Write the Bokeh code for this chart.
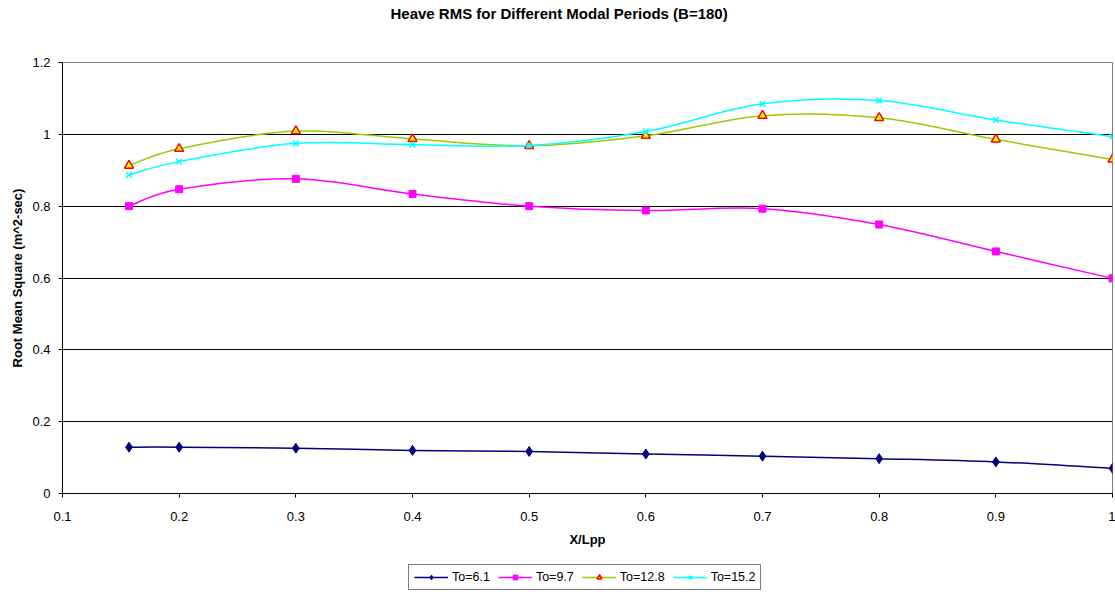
import numpy as np
from bokeh.plotting import figure
from bokeh.layouts import column
from bokeh.models import Range1d, FixedTicker, Legend, LegendItem, Title, ColumnDataSource
from bokeh.embed import file_html
from bokeh.resources import INLINE

# ---- data ----
x_lpp = [0.157, 0.2, 0.3, 0.4, 0.5, 0.6, 0.7, 0.8, 0.9, 1.0]
to_6_1 = [0.129, 0.129, 0.126, 0.120, 0.117, 0.110, 0.104, 0.097, 0.088, 0.070]
to_9_7 = [0.800, 0.847, 0.876, 0.834, 0.800, 0.788, 0.793, 0.749, 0.674, 0.599]
to_12_8 = [0.913, 0.960, 1.009, 0.987, 0.968, 0.996, 1.052, 1.046, 0.986, 0.930]
to_15_2 = [0.887, 0.924, 0.975, 0.971, 0.969, 1.008, 1.085, 1.094, 1.040, 0.994]
series_names = ["To=6.1", "To=9.7", "To=12.8", "To=15.2"]
x_ticks = [0.1, 0.2, 0.3, 0.4, 0.5, 0.6, 0.7, 0.8, 0.9, 1.0]
x_tick_labels = ["0.1", "0.2", "0.3", "0.4", "0.5", "0.6", "0.7", "0.8", "0.9", "1"]
y_ticks = [0, 0.2, 0.4, 0.6, 0.8, 1.0, 1.2]
y_tick_labels = ["0", "0.2", "0.4", "0.6", "0.8", "1", "1.2"]

FONT = "Liberation Sans"

p = figure(width=1115, height=555, output_backend="svg", toolbar_location=None, title=None,
           x_range=Range1d(0.1, 1.0), y_range=Range1d(0, 1.2),
           min_border_left=62, min_border_right=3, min_border_top=62, min_border_bottom=62)
# spacer between the title and the plot area, then the title itself
p.add_layout(Title(text=" ", text_font_size="1px", standoff=38), "above")
p.add_layout(Title(text="Heave RMS for Different Modal Periods (B=180)", align="left",
                   offset=328, text_font=FONT, text_font_size="15px", text_font_style="bold",
                   text_color="black", standoff=0), "above")

p.background_fill_color = "white"
p.border_fill_color = "white"
p.outline_line_color = "#808080"
p.outline_line_width = 1

p.xgrid.visible = False
p.ygrid.grid_line_color = "black"
p.ygrid.grid_line_width = 1
p.ygrid.ticker = FixedTicker(ticks=y_ticks)

p.xaxis.ticker = FixedTicker(ticks=x_ticks)
p.yaxis.ticker = FixedTicker(ticks=y_ticks)
p.xaxis.major_label_overrides = dict(zip(x_ticks, x_tick_labels))
p.yaxis.major_label_overrides = dict(zip(y_ticks, y_tick_labels))
for ax in (p.xaxis, p.yaxis):
    ax.axis_line_color = "black"
    ax.major_tick_line_color = "black"
    ax.major_tick_out = 4
    ax.major_tick_in = 0
    ax.minor_tick_line_color = None
    ax.major_label_text_font = FONT
    ax.major_label_text_font_size = "13px"
    ax.major_label_text_color = "black"
    ax.axis_label_text_font = FONT
    ax.axis_label_text_font_size = "13px"
    ax.axis_label_text_font_style = "bold"
    ax.axis_label_text_color = "black"
p.xaxis.axis_label = "X/Lpp"
p.yaxis.axis_label = "Root Mean Square (m^2-sec)"
p.xaxis.major_label_standoff = 14
p.yaxis.major_label_standoff = 8
p.xaxis.axis_label_standoff = 8
p.yaxis.axis_label_standoff = 4


def bezier_source(xs, ys):
    x = np.asarray(xs, dtype=float)
    y = np.asarray(ys, dtype=float)
    xp = np.concatenate([[x[0]], x, [x[-1]]])
    yp = np.concatenate([[y[0]], y, [y[-1]]])
    n = len(x)
    cx0 = xp[1:n] + (xp[2:n + 1] - xp[0:n - 1]) / 6.0
    cy0 = yp[1:n] + (yp[2:n + 1] - yp[0:n - 1]) / 6.0
    cx1 = xp[2:n + 1] - (xp[3:n + 2] - xp[1:n]) / 6.0
    cy1 = yp[2:n + 1] - (yp[3:n + 2] - yp[1:n]) / 6.0
    return ColumnDataSource(dict(x0=x[:-1], y0=y[:-1], x1=x[1:], y1=y[1:],
                                 cx0=cx0, cy0=cy0, cx1=cx1, cy1=cy1))


styles = [
    dict(data=to_6_1, line="#000080", marker="diamond", size=10, fill="#000080", mline="#000080"),
    dict(data=to_9_7, line="#FF00FF", marker="square", size=7, fill="#FF00FF", mline="#FF00FF"),
    dict(data=to_12_8, line="#99CC00", marker="triangle", size=9, fill="#FFFF00", mline="#FF0000"),
    dict(data=to_15_2, line="#00FFFF", marker="x", size=8, fill="#00FFFF", mline="#00FFFF"),
]

# legend strip below the chart (same Excel-style bottom legend)
lp = figure(width=1115, height=41, output_backend="svg", toolbar_location=None, title=None,
            x_range=Range1d(0.1, 1.0), y_range=Range1d(10, 11),
            x_axis_location=None, y_axis_location=None,
            min_border_left=0, min_border_right=0, min_border_top=0, min_border_bottom=0)
lp.grid.visible = False
lp.outline_line_color = None
lp.background_fill_color = "white"
lp.border_fill_color = "white"

items = []
for name, st in zip(series_names, styles):
    bsrc = bezier_source(x_lpp, st["data"])
    ssrc = ColumnDataSource(dict(x=x_lpp, y=st["data"]))
    bkw = dict(x0="x0", y0="y0", x1="x1", y1="y1", cx0="cx0", cy0="cy0",
               cx1="cx1", cy1="cy1", source=bsrc, line_color=st["line"], line_width=1.5)
    skw = dict(x="x", y="y", source=ssrc, marker=st["marker"], size=st["size"],
               fill_color=st["fill"], line_color=st["mline"],
               line_width=1.5 if st["marker"] in ("x", "triangle") else 1)
    p.bezier(**bkw)
    p.scatter(**skw)
    # legend keys (the strip's y range keeps the data itself out of view)
    lb = lp.bezier(**bkw)
    ls = lp.scatter(**skw)
    items.append(LegendItem(label=name, renderers=[lb, ls]))

legend = Legend(items=items, orientation="horizontal", location=(346, 6),
                label_text_font=FONT, label_text_font_size="12.5px", label_text_color="black",
                border_line_color="black", border_line_width=1, background_fill_color="white",
                background_fill_alpha=1.0,
                padding=5, spacing=8, margin=0, glyph_width=34, glyph_height=12,
                label_standoff=4, label_height=12)
lp.add_layout(legend, "center")

layout = column(p, lp, spacing=0)
open("out.html", "w").write(file_html(layout, INLINE))
